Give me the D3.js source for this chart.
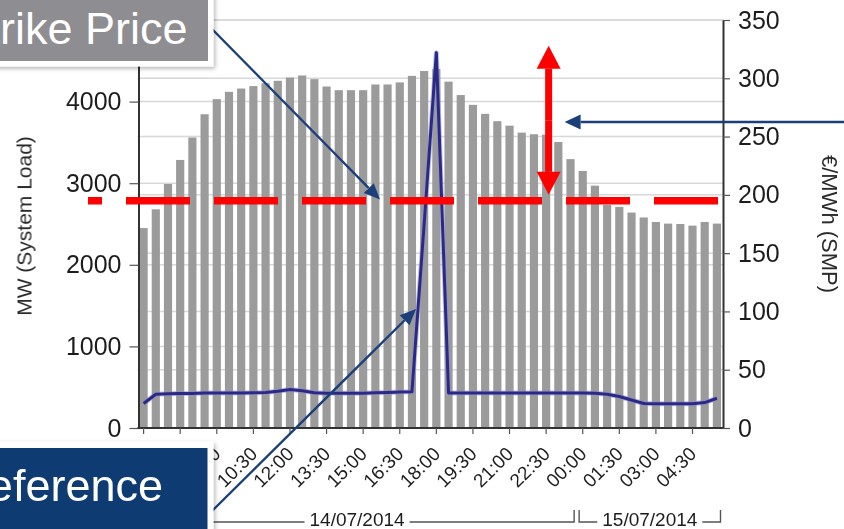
<!DOCTYPE html>
<html>
<head>
<meta charset="utf-8">
<script src="https://cdn.jsdelivr.net/npm/d3@7"></script>
<style>
  html, body { margin: 0; padding: 0; background: #ffffff; }
  svg { display: block; font-family: "Liberation Sans", Arial, Helvetica, sans-serif; }
</style>
</head>
<body>
<svg id="chart" width="844" height="529"></svg>
<script>
// Half-hourly intervals, 14/07/2014 06:00 to 15/07/2014 05:30
const times = [
  "06:00","06:30","07:00","07:30","08:00","08:30","09:00","09:30",
  "10:00","10:30","11:00","11:30","12:00","12:30","13:00","13:30",
  "14:00","14:30","15:00","15:30","16:00","16:30","17:00","17:30",
  "18:00","18:30","19:00","19:30","20:00","20:30","21:00","21:30",
  "22:00","22:30","23:00","23:30","00:00","00:30","01:00","01:30",
  "02:00","02:30","03:00","03:30","04:00","04:30","05:00","05:30"
];

// System load, MW
const systemLoad = [
  2450, 2680, 2990, 3285, 3560, 3845, 4030, 4120, 4160, 4190,
  4225, 4255, 4295, 4320, 4275, 4185, 4140, 4140, 4140, 4210,
  4210, 4235, 4315, 4375, 4400, 4245, 4080, 3960, 3850, 3760,
  3705, 3620, 3600, 3595, 3505, 3295, 3150, 2970, 2735, 2710,
  2640, 2580, 2525, 2505, 2500, 2480, 2525, 2505
];

// System marginal price, €/MWh
const smp = [
  21, 29, 29.3, 29.5, 29.7, 30, 30, 30, 30, 30.2,
  30.5, 31.5, 33, 32, 30.3, 29.8, 29.8, 29.8, 29.8, 30.3,
  30.5, 30.8, 31, 175, 322, 30, 30, 30, 30, 30,
  30, 30, 30, 30, 30, 30, 30, 29.8, 29, 27,
  24, 21, 20.8, 20.8, 20.8, 20.8, 21.8, 25.5
];

const loadMax = 5000;
const loadTicks = [0, 1000, 2000, 3000, 4000];
const smpTicks = [0, 50, 100, 150, 200, 250, 300, 350];

// Trading days and the interval each one starts at
const dayLabels = ["14/07/2014", "15/07/2014"];
const dayStarts = ["06:00", "00:00"];

// Annotation levels, €/MWh
const strikePrice = 195;
const spreadRange = [200, 328];
const pointerLevel = 262.5;

const svg = d3.select("#chart");
const plot = { left: 137.5, right: 723, top: 20, bottom: 428 };

const x = d3.scaleBand()
  .domain(times)
  .range([plot.left, plot.right])
  .paddingInner(0.33)
  .paddingOuter(0.165);
const bw = x.bandwidth();
const cx = t => x(t) + bw / 2;

const yL = d3.scaleLinear().domain([0, loadMax]).range([plot.bottom, plot.top]);
const yR = d3.scaleLinear().domain([0, 350]).range([plot.bottom, plot.top]);

const defs = svg.append("defs");
defs.append("filter").attr("id", "soft")
  .attr("x", "-5%").attr("y", "-5%").attr("width", "110%").attr("height", "110%")
  .append("feGaussianBlur").attr("stdDeviation", 0.55);
defs.append("filter").attr("id", "shadow")
  .attr("x", "-20%").attr("y", "-20%").attr("width", "140%").attr("height", "140%")
  .append("feDropShadow").attr("dx", 1.5).attr("dy", 2).attr("stdDeviation", 2)
  .attr("flood-color", "#000").attr("flood-opacity", 0.3);

const chart = svg.append("g").attr("filter", "url(#soft)");

// gridlines for both value axes
const grid = chart.append("g").attr("stroke", "#d8d8d8").attr("stroke-width", 1.5);
loadTicks.concat([loadMax]).filter(v => v > 0).forEach(v => {
  grid.append("line").attr("x1", plot.left).attr("x2", plot.right)
    .attr("y1", yL(v)).attr("y2", yL(v));
});
smpTicks.filter(v => v > 0).forEach(v => {
  grid.append("line").attr("x1", plot.left).attr("x2", plot.right)
    .attr("y1", yR(v)).attr("y2", yR(v));
});

// load bars
chart.append("g").selectAll("rect")
  .data(times)
  .join("rect")
  .attr("x", d => x(d))
  .attr("width", bw)
  .attr("y", (d, i) => yL(systemLoad[i]))
  .attr("height", (d, i) => plot.bottom - yL(systemLoad[i]))
  .attr("fill", "#9b9b9b");

// price line, with a faint halo under it
const line = d3.line()
  .x((d, i) => cx(times[i]))
  .y(d => yR(d));
chart.append("path")
  .datum(smp)
  .attr("d", line)
  .attr("fill", "none")
  .attr("stroke", "#8e8cd0")
  .attr("stroke-opacity", 0.55)
  .attr("stroke-width", 5)
  .attr("stroke-linejoin", "round");
chart.append("path")
  .datum(smp)
  .attr("d", line)
  .attr("fill", "none")
  .attr("stroke", "#2c2a86")
  .attr("stroke-width", 3)
  .attr("stroke-linejoin", "round");

// axes
const styleAxis = (g, size) => {
  g.select(".domain").attr("stroke", "#333").attr("stroke-width", 2);
  g.selectAll(".tick line").attr("stroke", "#555").attr("stroke-width", 1.2);
  g.selectAll(".tick text").attr("fill", "#1e1e1e").style("font-size", size + "px")
    .style("font-family", "'Liberation Sans', Arial, sans-serif");
};

const leftAxis = chart.append("g")
  .attr("transform", `translate(${plot.left + 1},0)`)
  .call(d3.axisLeft(yL).tickValues(loadTicks).tickFormat(d3.format("d"))
    .tickSize(9).tickSizeOuter(0).tickPadding(8));
styleAxis(leftAxis, 25);

const rightAxis = chart.append("g")
  .attr("transform", `translate(${plot.right},0)`)
  .call(d3.axisRight(yR).tickValues(smpTicks).tickFormat(d3.format("d"))
    .tickSize(7).tickSizeOuter(0).tickPadding(8));
styleAxis(rightAxis, 25);

const bottomAxis = chart.append("g")
  .attr("transform", `translate(0,${plot.bottom})`)
  .call(d3.axisBottom(x).tickValues(times.filter((d, i) => i % 3 === 0))
    .tickSize(6).tickSizeOuter(0));
styleAxis(bottomAxis, 19);
bottomAxis.select(".domain").attr("d", `M${plot.left},0H${plot.right}`);
bottomAxis.selectAll(".tick text")
  .attr("y", null).attr("dy", null)
  .attr("text-anchor", "end")
  .attr("transform", "translate(5,27) rotate(-45)");

// trading-day brackets under the time labels
const step = x.step();
const bracketY = 522, bracketTop = 510;
const dayGroup = chart.append("g");
dayLabels.forEach((label, k) => {
  const i0 = times.indexOf(dayStarts[k]);
  const i1 = k + 1 < dayStarts.length ? times.indexOf(dayStarts[k + 1]) - 1 : times.length - 1;
  const xa = x(times[i0]) - step * 0.165 + 2.5;
  const xb = x(times[i1]) + bw + step * 0.165 - 2.5;
  const mid = (xa + xb) / 2;
  const t = dayGroup.append("text")
    .attr("x", mid).attr("y", 525.5)
    .attr("text-anchor", "middle")
    .attr("fill", "#1e1e1e")
    .style("font-size", "19px")
    .text(label);
  const half = t.node().getComputedTextLength() / 2 + 5;
  dayGroup.append("path")
    .attr("d", `M${xa},${bracketTop}V${bracketY}H${mid - half}M${mid + half},${bracketY}H${xb}V${bracketTop}`)
    .attr("fill", "none").attr("stroke", "#555").attr("stroke-width", 1.4);
});

// axis titles
chart.append("text")
  .attr("transform", "translate(31.5,226) rotate(-90)")
  .attr("text-anchor", "middle")
  .attr("fill", "#2a2a2a")
  .style("font-size", "21px")
  .text("MW (System Load)");
chart.append("text")
  .attr("transform", "translate(822,224) rotate(90)")
  .attr("text-anchor", "middle")
  .attr("fill", "#2a2a2a")
  .style("font-size", "22px")
  .text("€/MWh (SMP)");

// ---- callouts ----
const notes = svg.append("g");

function arrow(g, x1, y1, x2, y2, color, width, headLen, headHalf) {
  const a = Math.atan2(y2 - y1, x2 - x1);
  const bx = x2 - headLen * Math.cos(a), by = y2 - headLen * Math.sin(a);
  g.append("line").attr("x1", x1).attr("y1", y1).attr("x2", bx).attr("y2", by)
    .attr("stroke", color).attr("stroke-width", width);
  const nx = -Math.sin(a) * headHalf, ny = Math.cos(a) * headHalf;
  g.append("path")
    .attr("d", `M${x2},${y2}L${bx + nx},${by + ny}L${bx - nx},${by - ny}Z`)
    .attr("fill", color);
}

// strike price level
notes.append("line")
  .attr("x1", 88).attr("x2", 718)
  .attr("y1", yR(strikePrice)).attr("y2", yR(strikePrice))
  .attr("stroke", "#ff0000").attr("stroke-width", 7.5)
  .attr("stroke-dasharray", "64 24").attr("stroke-dashoffset", 50);

// spread between strike and peak price
const spreadX = cx("22:30") + 2.5;
const red = "#ff0000";
const spreadMid = (yR(spreadRange[0]) + yR(spreadRange[1])) / 2;
arrow(notes, spreadX, spreadMid, spreadX, yR(spreadRange[1]), red, 7, 23, 12);
arrow(notes, spreadX, spreadMid, spreadX, yR(spreadRange[0]), red, 7, 23, 12);

const navy = "#1b3f7a";
arrow(notes, 844, yR(pointerLevel), spreadX + 16, yR(pointerLevel), navy, 2.6, 16, 7.5);
arrow(notes, 211.5, 28.5, 380, 199.5, navy, 2.4, 16, 7);
arrow(notes, 211.5, 511.5, 416, 309, navy, 2.4, 16, 7);

// label boxes
notes.append("rect").attr("x", -20).attr("y", -20).attr("width", 233.5).attr("height", 86.5)
  .attr("fill", "#ffffff").attr("filter", "url(#shadow)");
notes.append("rect").attr("x", -20).attr("y", -20).attr("width", 228).attr("height", 81)
  .attr("fill", "#8d8d92");
notes.append("text").attr("x", 187.5).attr("y", 43.5).attr("text-anchor", "end")
  .attr("fill", "#ffffff").style("font-size", "45px").text("Strike Price");

notes.append("rect").attr("x", -20).attr("y", 441.5).attr("width", 233.5).attr("height", 120)
  .attr("fill", "#ffffff").attr("filter", "url(#shadow)");
notes.append("rect").attr("x", -20).attr("y", 448).attr("width", 227.5).attr("height", 120)
  .attr("fill", "#0f3b73");
notes.append("text").attr("x", 163).attr("y", 501).attr("text-anchor", "end")
  .attr("fill", "#ffffff").style("font-size", "45px").text("Reference");
</script>
</body>
</html>
